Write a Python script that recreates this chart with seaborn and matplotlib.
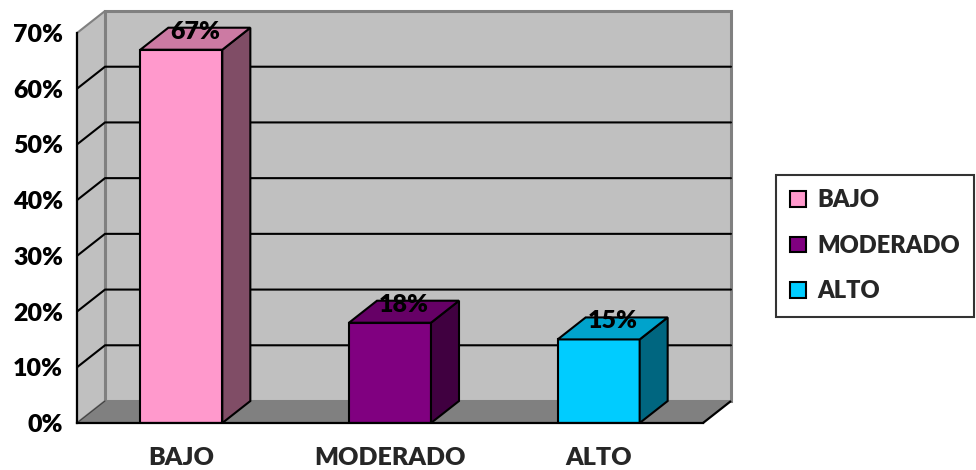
import matplotlib
matplotlib.use("Agg")
import matplotlib.pyplot as plt
import matplotlib.colors as mcolors
from matplotlib.font_manager import FontProperties
from matplotlib.patches import Polygon, Patch
import seaborn as sns

# Data
categories = ["BAJO", "MODERADO", "ALTO"]
values = [0.67, 0.18, 0.15]
value_labels = ["67%", "18%", "15%"]
bar_colors = ["#FF99CC", "#800080", "#00CCFF"]
y_ticks = [0.0, 0.1, 0.2, 0.3, 0.4, 0.5, 0.6, 0.7]

sns.set_style("white")
plt.rcParams["font.family"] = ["Lato", "DejaVu Sans"]

tick_font = FontProperties(family="Lato", weight="heavy", size=18)
label_font = FontProperties(family="Lato", weight="heavy", size=18)
legend_font = FontProperties(family="Lato", weight="heavy", size=17)

W, H = 976, 470
fig = plt.figure(figsize=(W / 100, H / 100), dpi=100)
# front plane of the 3-D box, in pixels: x 77..703, y 33..423
ax = fig.add_axes([77 / W, (H - 423) / H, 626 / W, 390 / H])
ax.set_facecolor("none")

xmin, xmax = -0.5, 2.5
ymin, ymax = 0.0, 0.7

# depth offset of the box (data units)
dx = 28 / (626 / 3)
dy = 22 / (390 / 0.7)

wall_fill = "#C0C0C0"
wall_edge = "#808080"

# front faces of the bars
sns.barplot(x=categories, y=values, hue=categories, palette=bar_colors,
            width=82 / (626 / 3), edgecolor="black", linewidth=1.5,
            saturation=1, legend=False, ax=ax, zorder=1)
bars = [p for c in ax.containers for p in c]
bars.sort(key=lambda p: p.get_x())

ax.set_xlim(xmin, xmax)
ax.set_ylim(ymin, ymax)

# back wall
ax.add_patch(Polygon([(xmin + dx, ymin + dy), (xmax + dx, ymin + dy),
                      (xmax + dx, ymax + dy), (xmin + dx, ymax + dy)],
                     closed=True, facecolor=wall_fill, edgecolor=wall_edge,
                     linewidth=2.2, zorder=0.1, clip_on=False))
# side wall
ax.add_patch(Polygon([(xmin, ymin), (xmin + dx, ymin + dy),
                      (xmin + dx, ymax + dy), (xmin, ymax)],
                     closed=True, facecolor=wall_fill, edgecolor=wall_edge,
                     linewidth=1.5, zorder=0.1, clip_on=False))
# floor
ax.add_patch(Polygon([(xmin, ymin), (xmax, ymin),
                      (xmax + dx, ymin + dy), (xmin + dx, ymin + dy)],
                     closed=True, facecolor="#808080", edgecolor="none",
                     zorder=0.2, clip_on=False))
ax.plot([xmax, xmax + dx], [ymin, ymin + dy], color="black", lw=1.6,
        zorder=0.3, clip_on=False, solid_capstyle="butt")
ax.plot([xmin, xmin + dx], [ymin, ymin + dy], color="#404040", lw=0.8,
        zorder=0.3, clip_on=False)

# gridlines on side and back walls
for yv in y_ticks[1:-1]:
    ax.plot([xmin, xmin + dx, xmax + dx], [yv, yv + dy, yv + dy],
            color="black", lw=1.5, zorder=0.3, clip_on=False)


def shade(c, f):
    r, g, b = mcolors.to_rgb(c)
    return (r * f, g * f, b * f)


for patch, col, lab in zip(bars, bar_colors, value_labels):
    x0 = patch.get_x()
    x1 = x0 + patch.get_width()
    h = patch.get_height()
    side = Polygon([(x1, 0), (x1 + dx, dy), (x1 + dx, h + dy), (x1, h)],
                   closed=True, facecolor=shade(col, 0.5), edgecolor="black",
                   linewidth=1.5, zorder=1.1, clip_on=False)
    top = Polygon([(x0, h), (x1, h), (x1 + dx, h + dy), (x0 + dx, h + dy)],
                  closed=True, facecolor=shade(col, 0.8), edgecolor="black",
                  linewidth=1.5, zorder=1.1, clip_on=False)
    ax.add_patch(side)
    ax.add_patch(top)
    ax.text((x0 + x1) / 2 + dx / 2, h + dy / 2, lab, ha="center", va="baseline",
            fontproperties=label_font, color="black", zorder=3, clip_on=False)

# axes
for s in ["top", "right"]:
    ax.spines[s].set_visible(False)
for s in ["left", "bottom"]:
    ax.spines[s].set_color("black")
    ax.spines[s].set_linewidth(1.6)
    ax.spines[s].set_zorder(2.5)

ax.set_yticks(y_ticks)
ax.set_yticklabels([f"{v:.0%}" for v in y_ticks])
ax.tick_params(axis="y", direction="out", length=5, width=1.5, pad=5,
               colors="black")
ax.set_xticks(range(len(categories)))
ax.set_xticklabels(categories)
ax.set_xticks([0.5, 1.5], minor=True)
ax.tick_params(axis="x", which="major", length=0, pad=17)
ax.tick_params(axis="x", which="minor", direction="out", length=5, width=1.5)
for t in ax.get_xticklabels() + ax.get_yticklabels():
    t.set_fontproperties(tick_font)
ax.set_xlabel("")
ax.set_ylabel("")

# legend
handles = [Patch(facecolor=c, edgecolor="black", linewidth=1.5) for c in bar_colors]
leg = fig.legend(handles, categories, loc="upper left",
                 bbox_to_anchor=(776 / W, 1 - 175 / H), bbox_transform=fig.transFigure,
                 borderaxespad=0, frameon=True, fancybox=False,
                 prop=legend_font,
                 handlelength=0.65, handleheight=0.65, handletextpad=0.5,
                 labelspacing=1.0, borderpad=0.6)
leg.get_frame().set_edgecolor("black")
leg.get_frame().set_linewidth(1.5)

fig.savefig("out.png", dpi=100)
